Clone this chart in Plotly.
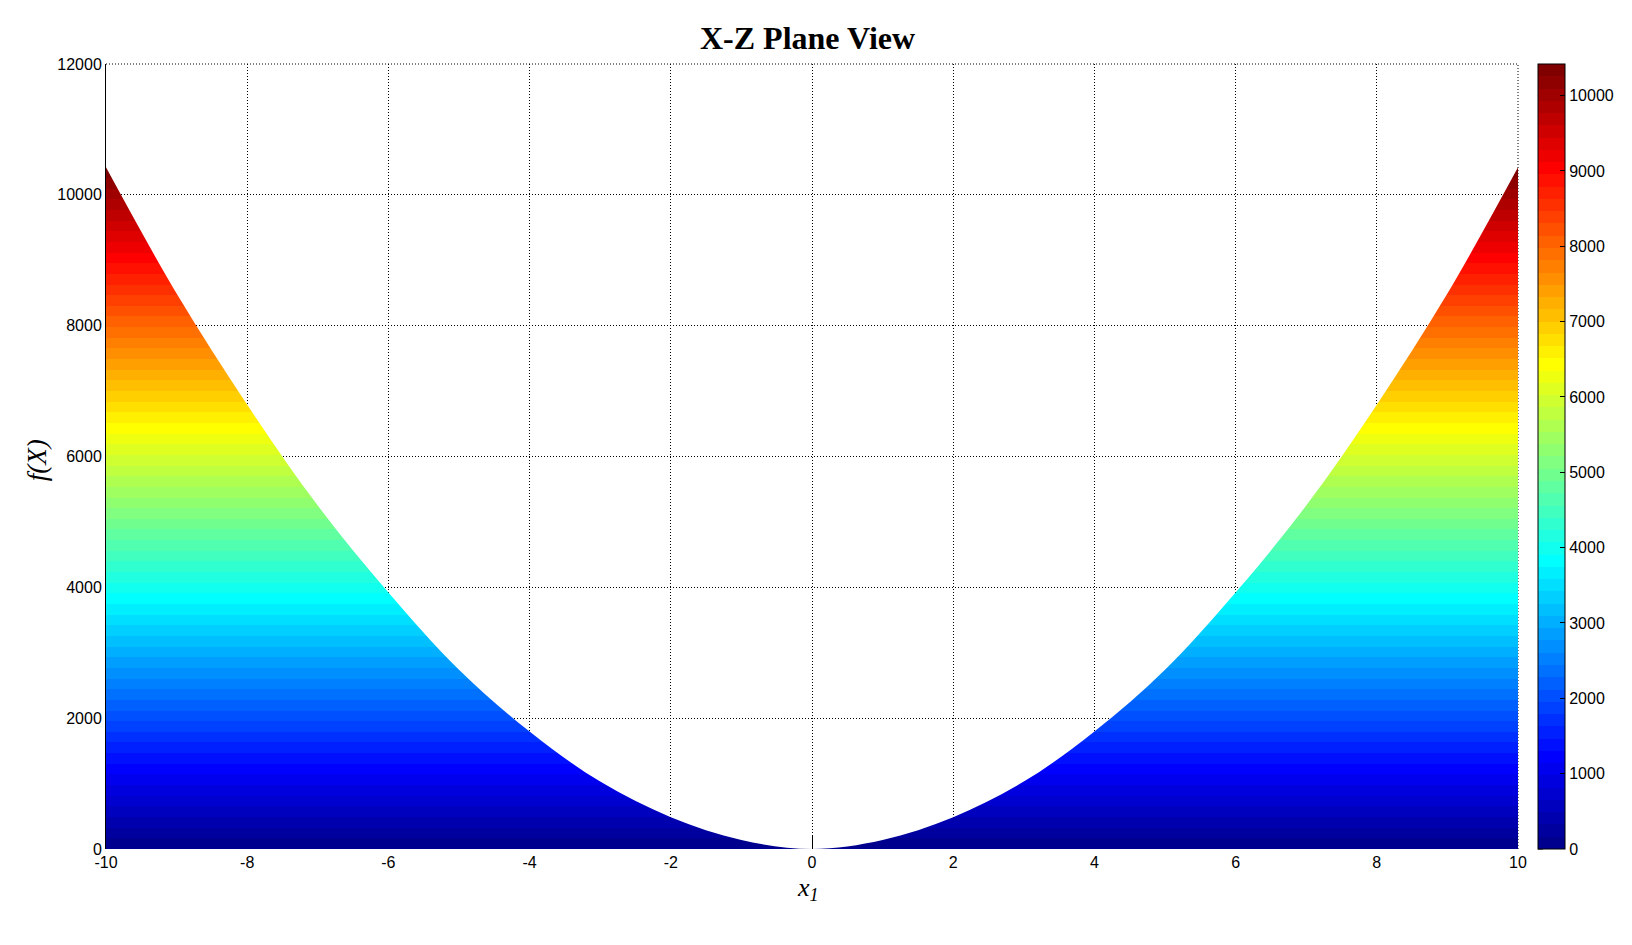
import numpy as np
import plotly.graph_objects as go

# ---- data ----
x1_vals = [-10, -9, -8, -7, -6, -5, -4, -3, -2, -1, 0, 1, 2, 3, 4, 5, 6, 7, 8, 9, 10]
fx_vals = [10420, 8490, 6790, 5250, 3920, 2740, 1795, 1030, 487, 138, 0,
           138, 487, 1030, 1795, 2740, 3920, 5250, 6790, 8490, 10420]

x_tick_vals = [-10, -8, -6, -4, -2, 0, 2, 4, 6, 8, 10]
x_tick_text = ["-10", "-8", "-6", "-4", "-2", "0", "2", "4", "6", "8", "10"]
y_tick_vals = [0, 2000, 4000, 6000, 8000, 10000, 12000]
y_tick_text = ["0", "2000", "4000", "6000", "8000", "10000", "12000"]
cb_tick_vals = [0, 1000, 2000, 3000, 4000, 5000, 6000, 7000, 8000, 9000, 10000]
cb_tick_text = ["0", "1000", "2000", "3000", "4000", "5000", "6000", "7000", "8000", "9000", "10000"]

c_min = 0
c_max = 10420


# ---- MATLAB jet(64) colormap, discrete ----
def jet_colors(n=64):
    m = n // 4
    u = np.concatenate([np.arange(1, m + 1) / m, np.ones(m - 1), np.arange(m, 0, -1) / m])
    g = int(np.ceil(m / 2)) - (1 if n % 4 == 1 else 0) + np.arange(1, len(u) + 1)
    r = g + m
    b = g - m
    J = np.zeros((n, 3))
    for idx_arr, ch in ((r, 0), (g, 1), (b, 2)):
        for k, idx in enumerate(idx_arr):
            if 1 <= idx <= n:
                J[idx - 1, ch] = u[k]
    return ["rgb(%d,%d,%d)" % tuple(np.round(c * 255).astype(int)) for c in J]


cols = jet_colors(64)
n = len(cols)
jet_scale = []
for i, c in enumerate(cols):
    jet_scale.append([i / n, c])
    jet_scale.append([(i + 1) / n, c])

TICK_FONT = dict(family="Liberation Sans, Arial, sans-serif", size=16, color="black")
SERIF = "Liberation Serif, Times New Roman, serif"

PLOT_W = 1632 - 106 - 107
CB_X = 1.0141

fig = go.Figure()

fig.add_trace(go.Scatter(
    x=x1_vals, y=fx_vals,
    mode="lines",
    line=dict(width=0, shape="spline", color="rgba(0,0,0,0)"),
    fill="tozeroy",
    fillgradient=dict(type="vertical", colorscale=jet_scale, start=c_min, stop=c_max),
    hoverinfo="skip",
    showlegend=False,
))

fig.add_trace(go.Scatter(
    x=[None], y=[None],
    mode="markers",
    marker=dict(
        color=[c_min], cmin=c_min, cmax=c_max, colorscale=jet_scale, showscale=True,
        colorbar=dict(
            x=CB_X, xanchor="left", xpad=0,
            y=0.5, yanchor="middle", len=1.0, lenmode="fraction", ypad=0,
            thickness=27, thicknessmode="pixels",
            outlinewidth=1, outlinecolor="black",
            ticks="inside", ticklen=5, tickcolor="black",
            tickvals=cb_tick_vals, ticktext=cb_tick_text,
            tickfont=TICK_FONT,
        ),
    ),
    hoverinfo="skip",
    showlegend=False,
))

shapes = [
    dict(type="line", xref="paper", yref="paper", x0=0, x1=1, y0=1, y1=1,
         line=dict(color="black", width=1, dash="1px,2px"), layer="below"),
    dict(type="line", xref="paper", yref="paper", x0=1, x1=1, y0=0, y1=1,
         line=dict(color="black", width=1, dash="1px,2px"), layer="below"),
]
# left-side ticks of the colorbar (MATLAB draws ticks on both edges)
for v in cb_tick_vals:
    yp = (v - c_min) / (c_max - c_min)
    shapes.append(dict(type="line", xref="paper", yref="paper",
                       x0=CB_X, x1=CB_X + 5 / PLOT_W, y0=yp, y1=yp,
                       line=dict(color="black", width=1), layer="above"))

fig.update_layout(
    width=1632, height=945,
    margin=dict(l=106, r=107, t=64, b=96),
    paper_bgcolor="white", plot_bgcolor="white",
    showlegend=False,
    xaxis=dict(
        range=[-10, 10], tickvals=x_tick_vals, ticktext=x_tick_text,
        showgrid=True, gridcolor="black", griddash="1px,2px", gridwidth=1,
        zeroline=False, showline=False,
        ticks="inside", ticklen=14, tickcolor="black",
        ticklabelstandoff=2,
        layer="below traces",
        tickfont=TICK_FONT,
    ),
    yaxis=dict(
        range=[0, 12000], tickvals=y_tick_vals, ticktext=y_tick_text,
        showgrid=True, gridcolor="black", griddash="1px,2px", gridwidth=1,
        zeroline=False, showline=True, linecolor="black", linewidth=1,
        ticks="inside", ticklen=13, tickcolor="black",
        layer="below traces",
        tickfont=TICK_FONT,
    ),
    shapes=shapes,
    annotations=[
        dict(text="<b>X-Z Plane View</b>", xref="paper", yref="paper",
             x=0.497, y=1 + (64 - 38) / 785, xanchor="center", yanchor="middle",
             showarrow=False,
             font=dict(family=SERIF, size=32, color="black")),
        dict(text="<i>x</i><sub><i>1</i></sub>", xref="paper", yref="paper",
             x=0.4975, y=-(889 - 849) / 785, xanchor="center", yanchor="middle",
             showarrow=False,
             font=dict(family=SERIF, size=26, color="black")),
        dict(text="<i>f(X)</i>", xref="paper", yref="paper",
             x=(37 - 106) / 1419, y=(849 - 460) / 785, xanchor="center", yanchor="middle",
             textangle=-90, showarrow=False,
             font=dict(family=SERIF, size=27, color="black")),
    ],
)

fig.write_html(
    "out.html",
    config={"displayModeBar": False},
    post_script="document.documentElement.style.margin='0';"
                "document.body.style.margin='0';"
                "document.body.style.overflow='hidden';",
)
